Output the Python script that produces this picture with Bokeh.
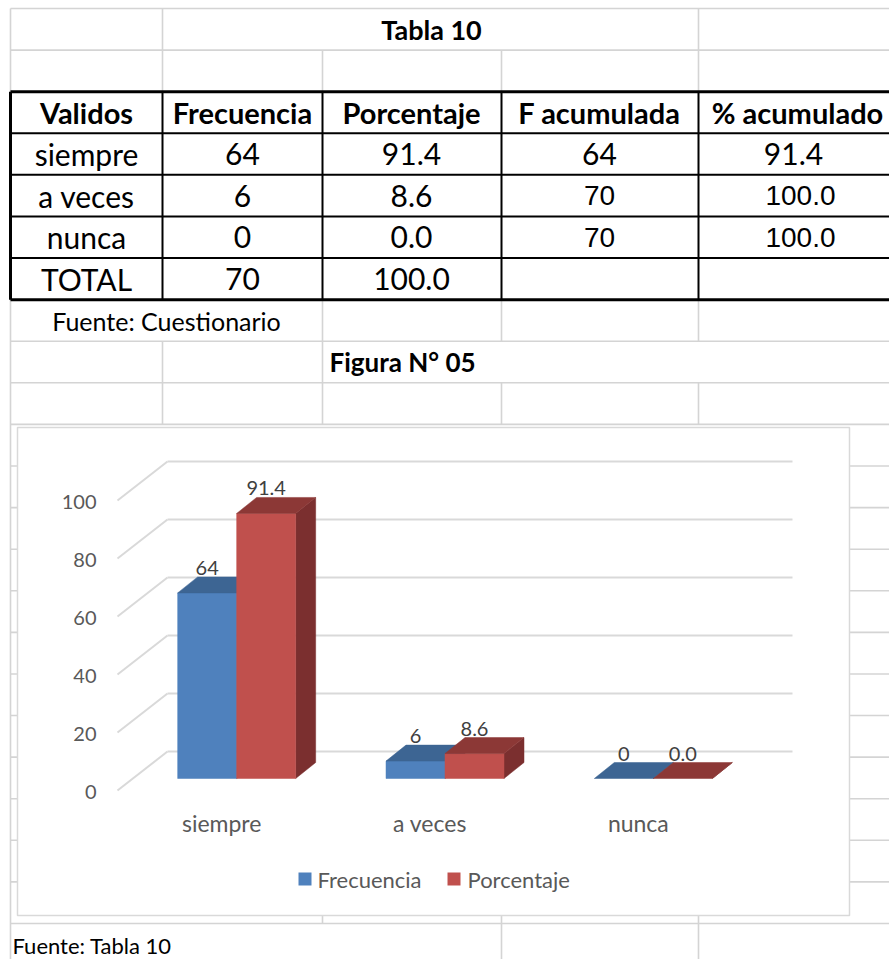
from bokeh.plotting import figure
from bokeh.models import Range1d
from bokeh.core.properties import value
from bokeh.embed import file_html
from bokeh.resources import INLINE

# ---------------- data ----------------
table_title = "Tabla 10"
headers = ["Validos", "Frecuencia", "Porcentaje", "F acumulada", "% acumulado"]
validos = ["siempre", "a veces", "nunca", "TOTAL"]
frecuencia = [64, 6, 0, 70]
porcentaje = [91.4, 8.6, 0.0, 100.0]
f_acumulada = [64, 70, 70, None]
pct_acumulado = [91.4, 100.0, 100.0, None]
table_source = "Fuente: Cuestionario"
figure_title = "Figura N° 05"

chart_categories = ["siempre", "a veces", "nunca"]
chart_frecuencia = [64, 6, 0]
chart_porcentaje = [91.4, 8.6, 0.0]
y_ticks = [0, 20, 40, 60, 80, 100]
series_names = ["Frecuencia", "Porcentaje"]
chart_source = "Fuente: Tabla 10"

# ---------------- figure (pixel space of the sheet) ----------------
W, H = 889, 959
p = figure(width=W, height=H, x_range=Range1d(0, W), y_range=Range1d(H, 0),
           output_backend="svg", toolbar_location=None, min_border=0)
p.axis.visible = False
p.grid.visible = False
p.outline_line_color = None
p.background_fill_color = "white"
p.border_fill_color = "white"

FONT = value("Lato")
GRID = "#D4D4D4"

row_step = (923 - 8) / 22.0
rows = [8 + i * row_step for i in range(24)]
cols = [10, 162, 322, 501, 698, 900]

# spreadsheet gray grid
hx0, hx1, hy = [], [], []
for i, y in enumerate(rows):
    if 2 <= i <= 7:
        continue
    hx0.append(10); hx1.append(900); hy.append(y)
p.segment(x0=hx0, y0=hy, x1=hx1, y1=hy, line_color=GRID, line_width=1.6)

vsegs = [
    (10, 8, 960),
    (162, rows[0], rows[2]), (162, rows[8], rows[10]),
    (322, rows[1], rows[2]), (322, rows[7], rows[10]), (322, 915, rows[22]),
    (501, rows[1], rows[2]), (501, rows[7], rows[8]), (501, rows[9], rows[10]), (501, 915, 960),
    (698, rows[0], rows[2]), (698, rows[7], rows[8]), (698, rows[9], rows[10]), (698, 915, 960),
]
p.segment(x0=[s[0] for s in vsegs], y0=[s[1] for s in vsegs],
          x1=[s[0] for s in vsegs], y1=[s[2] for s in vsegs],
          line_color=GRID, line_width=1.6)

# table black borders
ty0, ty1 = rows[2], rows[7]
inner_y = rows[3:7]
p.segment(x0=[10] * 4, y0=inner_y, x1=[900] * 4, y1=inner_y, line_color="black", line_width=2)
p.segment(x0=cols[1:5], y0=[ty0] * 4, x1=cols[1:5], y1=[ty1] * 4, line_color="black", line_width=2)
p.segment(x0=[10, 10, 10], y0=[ty0, ty1, ty0], x1=[900, 900, 10], y1=[ty0, ty1, ty1],
          line_color="black", line_width=3)

# table texts
centers_x = [86, 242, 411, 599, 797]
row_c = [(rows[k] + rows[k + 1]) / 2 for k in range(2, 7)]

p.text(x=[431], y=[(rows[0] + rows[1]) / 2], text=[table_title], text_font=FONT,
       text_font_style="bold", text_font_size="27px", text_align="center",
       text_baseline="middle", text_color="black")
p.text(x=centers_x, y=[row_c[0]] * 5, text=headers, text_font=FONT, text_font_style="bold",
       text_font_size="29px", text_align="center", text_baseline="middle", text_color="black")

cal_x, cal_y, cal_t = [], [], []
ari_x, ari_y, ari_t = [], [], []
for r in range(4):
    yy = row_c[r + 1]
    cal_x += [centers_x[0], centers_x[1], centers_x[2]]
    cal_y += [yy] * 3
    cal_t += [validos[r], str(frecuencia[r]), "%.1f" % porcentaje[r]]
    if f_acumulada[r] is not None:
        if r == 0:
            cal_x += [centers_x[3], centers_x[4] - 4]
            cal_y += [yy, yy]
            cal_t += [str(f_acumulada[r]), "%.1f" % pct_acumulado[r]]
        else:
            ari_x += [centers_x[3], centers_x[4] + 3]
            ari_y += [yy, yy]
            ari_t += [str(f_acumulada[r]), "%.1f" % pct_acumulado[r]]
p.text(x=cal_x, y=cal_y, text=cal_t, text_font=FONT, text_font_size="30px",
       text_align="center", text_baseline="middle", text_color="black")
p.text(x=ari_x, y=ari_y, text=ari_t, text_font=value("Liberation Sans"), text_font_size="28px",
       text_align="center", text_baseline="middle", text_color="black")

p.text(x=[166], y=[(rows[7] + rows[8]) / 2 + 1], text=[table_source], text_font=FONT,
       text_font_size="25px", text_align="center", text_baseline="middle", text_color="black")
p.text(x=[329], y=[(rows[8] + rows[9]) / 2], text=[figure_title], text_font=FONT,
       text_font_style="bold", text_font_size="26px", text_align="left",
       text_baseline="middle", text_color="black")
p.text(x=[12], y=[945], text=[chart_source], text_font=FONT,
       text_font_size="22px", text_align="left", text_baseline="middle", text_color="black")

# ---------------- chart ----------------
p.quad(left=[17], right=[849], top=[427], bottom=[915], fill_color="white",
       line_color="#D9D9D9", line_width=1.5)

FRONT_X0, FRONT_X1 = 117, 742      # front edge of the floor
DEPTH_DX, DEPTH_DY = 50, -39       # depth vector of the chart box
BACK_ZERO = 751                    # y of value 0 on the back wall
PX_PER_UNIT = (751 - 461) / 100.0

def back_y(v):
    return BACK_ZERO - v * PX_PER_UNIT

gy = [back_y(v) for v in y_ticks]
p.segment(x0=[FRONT_X0 + DEPTH_DX] * len(gy), y0=gy, x1=[FRONT_X1 + DEPTH_DX] * len(gy), y1=gy,
          line_color="#D9D9D9", line_width=2)
p.segment(x0=[FRONT_X0 + DEPTH_DX] * len(gy), y0=gy, x1=[FRONT_X0] * len(gy),
          y1=[g - DEPTH_DY for g in gy], line_color="#D9D9D9", line_width=2)
p.text(x=[96] * len(gy), y=[g - DEPTH_DY + 1 for g in gy], text=[str(v) for v in y_ticks],
       text_font=FONT, text_font_size="20px", text_align="right", text_baseline="middle",
       text_color="#595959")

slot_w = (FRONT_X1 - FRONT_X0) / len(chart_categories)
bar_w = 59
bar_off_x, bar_off_y = 15, -12     # bar front plane inside the depth
bd_x, bd_y = 20, -16               # bar depth
front_zero = BACK_ZERO - DEPTH_DY + bar_off_y

palettes = [("#4F81BD", "#3D6593", "#385D8A"), ("#C0504D", "#8C3836", "#7B2F2F")]
xs, ys, fc = [], [], []
lab_x, lab_y, lab_t = [], [], []
for i, cat in enumerate(chart_categories):
    c = FRONT_X0 + (i + 0.5) * slot_w
    for j, vals in enumerate([chart_frecuencia, chart_porcentaje]):
        v = vals[i]
        x0 = c + bar_off_x - bar_w + j * bar_w
        x1 = x0 + bar_w
        yb = front_zero
        yt = front_zero - v * PX_PER_UNIT
        front_c, top_c, side_c = palettes[j]
        xs.append([x1, x1 + bd_x, x1 + bd_x, x1]); ys.append([yb, yb + bd_y, yt + bd_y, yt]); fc.append(side_c)
        if v > 0:
            xs.append([x0, x1, x1, x0]); ys.append([yb, yb, yt, yt]); fc.append(front_c)
        xs.append([x0, x1, x1 + bd_x, x0 + bd_x]); ys.append([yt, yt, yt + bd_y, yt + bd_y]); fc.append(top_c)
        lab_x.append((x0 + x1) / 2)
        lab_y.append(yt + bd_y - 9)
        lab_t.append(str(v) if j == 0 else "%.1f" % v)
p.patches(xs=xs, ys=ys, fill_color=fc, line_color=fc, line_width=0.5)
p.text(x=lab_x, y=lab_y, text=lab_t, text_font=FONT, text_font_size="20px",
       text_align="center", text_baseline="middle", text_color="#404040")

p.text(x=[FRONT_X0 + (i + 0.5) * slot_w for i in range(len(chart_categories))],
       y=[822] * len(chart_categories), text=chart_categories, text_font=FONT,
       text_font_size="23px", text_align="center", text_baseline="middle", text_color="#595959")

# legend
p.quad(left=[298, 447], right=[311, 460], top=[872, 872], bottom=[885, 885],
       fill_color=["#4F81BD", "#C0504D"], line_color=None)
p.text(x=[317, 467], y=[879, 879], text=series_names, text_font=FONT, text_font_size="22px",
       text_align="left", text_baseline="middle", text_color="#595959")

open("out.html", "w").write(file_html(p, INLINE))
